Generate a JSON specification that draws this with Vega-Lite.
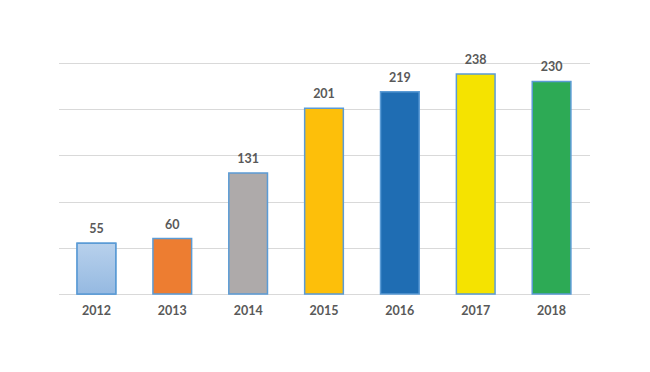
{
  "$schema": "https://vega.github.io/schema/vega-lite/v6.json",
  "width": 531,
  "height": 231,
  "autosize": {"type": "none"},
  "padding": {"left": 58.5, "top": 63, "right": 60.5, "bottom": 78},
  "background": "white",
  "config": {"view": {"stroke": null}, "font": "Lato"},
  "data": {
    "values": [
      {"year": "2012", "value": 55},
      {"year": "2013", "value": 60},
      {"year": "2014", "value": 131},
      {"year": "2015", "value": 201},
      {"year": "2016", "value": 219},
      {"year": "2017", "value": 238},
      {"year": "2018", "value": 230}
    ]
  },
  "encoding": {
    "x": {
      "field": "year", "type": "nominal", "title": null,
      "scale": {"paddingInner": 0.49, "paddingOuter": 0.245},
      "axis": {
        "labelAngle": 0, "labelFont": "Lato", "labelFontWeight": "bold", "labelFontSize": 12.5,
        "labelColor": "#595959", "ticks": false, "domain": true, "domainColor": "#d9d9d9",
        "labelPadding": 10
      }
    },
    "y": {
      "field": "value", "type": "quantitative", "title": null,
      "scale": {"domain": [0, 250], "nice": false},
      "axis": {
        "values": [0, 50, 100, 150, 200, 250], "labels": false, "ticks": false, "domain": false,
        "grid": true, "gridColor": "#d9d9d9", "gridWidth": 1
      }
    }
  },
  "layer": [
    {
      "mark": {"type": "bar", "stroke": "#5b9bd5", "strokeWidth": 1.5},
      "encoding": {
        "color": {
          "field": "year", "type": "nominal", "legend": null,
          "scale": {
            "domain": ["2012", "2013", "2014", "2015", "2016", "2017", "2018"],
            "range": ["#a6c5e8", "#ed7d31", "#aeaaaa", "#fdbf0a", "#1f6db3", "#f5e300", "#2daa55"]
          }
        }
      }
    },
    {
      "transform": [{"filter": "datum.year === '2012'"}],
      "mark": {
        "type": "bar", "stroke": "#5b9bd5", "strokeWidth": 1.5,
        "fill": {
          "gradient": "linear", "x1": 0, "y1": 0, "x2": 0, "y2": 1,
          "stops": [{"offset": 0, "color": "#b8d1ec"}, {"offset": 1, "color": "#95b9e1"}]
        }
      },
      "encoding": {}
    },
    {
      "mark": {"type": "text", "baseline": "bottom", "dy": -7, "font": "Lato", "fontWeight": "bold", "fontSize": 12.5, "color": "#595959"},
      "encoding": {"text": {"field": "value", "type": "quantitative"}}
    }
  ]
}
